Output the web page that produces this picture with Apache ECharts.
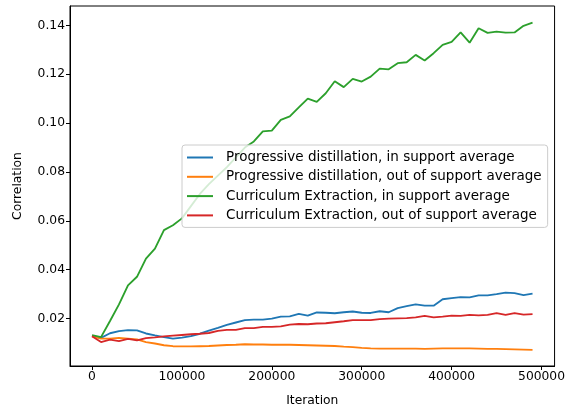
<!DOCTYPE html>
<html>
<head>
<meta charset="utf-8">
<script src="https://cdn.jsdelivr.net/npm/echarts@6/dist/echarts.min.js"></script>
<style>html,body{margin:0;padding:0;background:#fff;}#c{width:568px;height:413px;}</style>
</head>
<body>
<div id="c"></div>
<script>
const iterations = [0,10000,20000,30000,40000,50000,60000,70000,80000,90000,100000,110000,120000,130000,140000,150000,160000,170000,180000,190000,200000,210000,220000,230000,240000,250000,260000,270000,280000,290000,300000,310000,320000,330000,340000,350000,360000,370000,380000,390000,400000,410000,420000,430000,440000,450000,460000,470000,480000,490000];
const progInSupport = [0.0129,0.0121,0.0140,0.0149,0.0153,0.0152,0.0139,0.0131,0.0124,0.0118,0.0122,0.0128,0.0138,0.0151,0.0162,0.0174,0.0184,0.0194,0.0196,0.0196,0.0200,0.0208,0.0209,0.0219,0.0212,0.0225,0.0224,0.0222,0.0226,0.0229,0.0224,0.0223,0.0230,0.0226,0.0243,0.0251,0.0258,0.0253,0.0253,0.0279,0.0284,0.0288,0.0287,0.0295,0.0295,0.0300,0.0306,0.0304,0.0296,0.0302];
const progOutSupport = [0.0127,0.0118,0.0118,0.0121,0.0118,0.0115,0.0104,0.0098,0.0091,0.0087,0.0086,0.0086,0.0087,0.0088,0.0090,0.0092,0.0093,0.0095,0.0094,0.0094,0.0093,0.0093,0.0093,0.0092,0.0091,0.0090,0.0089,0.0088,0.0085,0.0083,0.0080,0.0078,0.0077,0.0077,0.0077,0.0077,0.0077,0.0076,0.0077,0.0078,0.0078,0.0078,0.0078,0.0077,0.0076,0.0076,0.0075,0.0074,0.0073,0.0072];
const currInSupport = [0.0132,0.0124,0.0190,0.0258,0.0336,0.0371,0.0445,0.0486,0.0562,0.0582,0.0610,0.0660,0.0710,0.0750,0.0785,0.0820,0.0860,0.0900,0.0925,0.0966,0.0969,0.1013,0.1027,0.1064,0.1100,0.1087,0.1122,0.1171,0.1147,0.1181,0.1170,0.1190,0.1223,0.1220,0.1245,0.1249,0.1279,0.1256,0.1286,0.1320,0.1332,0.1371,0.1329,0.1388,0.1369,0.1374,0.1370,0.1371,0.1398,0.1411];
const currOutSupport = [0.0128,0.0104,0.0114,0.0108,0.0117,0.0111,0.0120,0.0123,0.0127,0.0130,0.0133,0.0136,0.0138,0.0141,0.0150,0.0154,0.0154,0.0161,0.0161,0.0166,0.0166,0.0168,0.0175,0.0178,0.0177,0.0180,0.0181,0.0185,0.0189,0.0194,0.0194,0.0194,0.0198,0.0200,0.0201,0.0202,0.0205,0.0211,0.0205,0.0208,0.0212,0.0211,0.0215,0.0213,0.0215,0.0222,0.0215,0.0222,0.0216,0.0218];
const seriesNames = ["Progressive distillation, in support average","Progressive distillation, out of support average","Curriculum Extraction, in support average","Curriculum Extraction, out of support average"];
const xTicks = [0,100000,200000,300000,400000,500000];
const yTicks = [0.02,0.04,0.06,0.08,0.10,0.12,0.14];

const colors = ['#1f77b4','#ff7f0e','#2ca02c','#d62728'];
const allData = [progInSupport, progOutSupport, currInSupport, currOutSupport];
const font = 'DejaVu Sans';
const chart = echarts.init(document.getElementById('c'), null, {renderer:'canvas'});
chart.setOption({
  animation: false,
  backgroundColor: '#ffffff',
  grid: {left: 70, top: 6, right: 13, bottom: 47, show: true, borderColor: '#000', borderWidth: 1, backgroundColor: 'transparent'},
  xAxis: {
    type: 'value', min: -24500, max: 514500,
    name: 'Iteration', nameLocation: 'middle', nameGap: 29,
    nameTextStyle: {fontFamily: font, fontSize: 12.3, color: '#000'},
    axisLine: {show: true, onZero: false, lineStyle: {color: '#000', width: 1}},
    axisTick: {show: true, length: 4, lineStyle: {color: '#000'}, customValues: xTicks},
    axisLabel: {fontFamily: font, fontSize: 12.3, color: '#000', margin: 5, customValues: xTicks, formatter: v => String(v)},
    splitLine: {show: false}
  },
  yAxis: {
    type: 'value', min: 0.0006, max: 0.1479,
    name: 'Correlation', nameLocation: 'middle', nameGap: 46,
    nameTextStyle: {fontFamily: font, fontSize: 12.3, color: '#000'},
    axisLine: {show: true, onZero: false, lineStyle: {color: '#000', width: 1}},
    axisTick: {show: true, length: 4, lineStyle: {color: '#000'}, customValues: yTicks},
    axisLabel: {fontFamily: font, fontSize: 12.3, color: '#000', margin: 5, customValues: yTicks, formatter: v => v.toFixed(2)},
    splitLine: {show: false}
  },
  legend: {
    orient: 'vertical', left: 182, top: 145, z: 20,
    icon: 'rect', itemWidth: 26, itemHeight: 2, itemGap: 5.3,
    padding: [5.5, 6, 5, 5],
    backgroundColor: 'rgba(255,255,255,0.8)', borderColor: '#cccccc', borderWidth: 1, borderRadius: 3,
    textStyle: {fontFamily: font, fontSize: 13.5, color: '#000', padding: [0,0,0,8]},
    data: seriesNames
  },
  series: seriesNames.map((n, k) => ({
    name: n, type: 'line', showSymbol: false, symbol: 'none',
    data: iterations.map((x, i) => [x, allData[k][i]]),
    lineStyle: {color: colors[k], width: 1.85}, itemStyle: {color: colors[k]},
    z: 2
  }))
});
</script>
</body>
</html>
